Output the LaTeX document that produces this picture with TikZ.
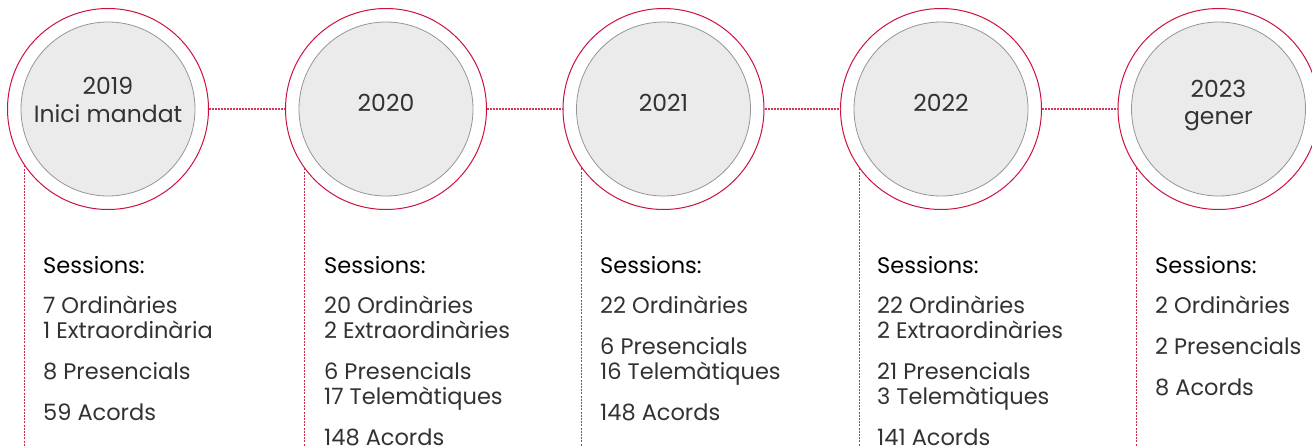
\documentclass[tikz,border=0pt]{standalone}
\usepackage{fontspec}
\setmainfont{Poppins}
\usetikzlibrary{calc}
\definecolor{tlred}{RGB}{206,18,62}
\definecolor{tlgray}{RGB}{235,235,235}
\definecolor{tlstroke}{RGB}{150,150,150}
\definecolor{tltext}{RGB}{50,50,50}
\begin{document}
\begin{tikzpicture}[x=1pt,y=-1pt,
  outer/.style={circle,draw=tlred,line width=1pt,minimum size=201pt,inner sep=0pt},
  inner/.style={circle,draw=tlstroke,fill=tlgray,line width=0.8pt,minimum size=174pt,inner sep=0pt},
  year/.style={anchor=base,font=\fontsize{23.5}{28}\selectfont,text=tltext,inner sep=0pt},
  link/.style={draw=tlred!85,line width=1.2pt,dash pattern=on 2pt off 1pt},
  vlink/.style={draw=tlred!90,line width=1.3pt,dash pattern=on 2pt off 1.2pt},
  head/.style={anchor=base west,font=\fontsize{22.5}{27}\selectfont,text=black,inner sep=0pt},
  item/.style={anchor=base west,font=\fontsize{22.5}{27}\selectfont,text=tltext,inner sep=0pt}]
\clip (0,0) rectangle (1312,447);
\useasboundingbox (0,0) rectangle (1312,447);
\fill[white] (0,0) rectangle (1312,447);
% circles
\foreach \i/\x in {1/108,2/386,3/663.5,4/941,5/1218.5}{
  \node[outer] (o\i) at (\x,109) {};
  \node[inner] (i\i) at (o\i) {};
}
\node[year] (y1a) at (108,94.5) {2019};
\node[year] (y1b) at (108,122) {Inici mandat};
\node[year] (y2) at (386,111) {2020};
\node[year] (y3) at (663.5,111) {2021};
\node[year] (y4) at (941,111) {2022};
\node[year] (y5a) at (1218.5,97) {2023};
\node[year] (y5b) at (1218.5,124) {gener};
% horizontal links
\draw[link] (o1.east) -- (o2.west);
\draw[link] (o2.east) -- (o3.west);
\draw[link] (o3.east) -- (o4.west);
\draw[link] (o4.east) -- (o5.west);
% vertical links
\foreach \i/\a in {1/214,2/216.8,3/216.8,4/216.8,5/216.8}{
  \coordinate (b\i) at ($(o\i.\a)+(0,300)$);
  \draw[vlink] (o\i.\a) -- (b\i);
}
% column 1
\node[head] (s1) at (43,273) {Sessions:};
\node[item] (t1a) at (43,313) {7 Ordinàries};
\node[item] (t1b) at (43,338) {1 Extraordinària};
\node[item] (t1c) at (43,379) {8 Presencials};
\node[item] (t1d) at (43,420) {59 Acords};
% column 2
\node[head] (s2) at (324,273) {Sessions:};
\node[item] (t2a) at (324,313) {20 Ordinàries};
\node[item] (t2b) at (324,338) {2 Extraordinàries};
\node[item] (t2c) at (324,379) {6 Presencials};
\node[item] (t2d) at (324,404) {17 Telemàtiques};
\node[item] (t2e) at (324,445) {148 Acords};
% column 3
\node[head] (s3) at (600,273) {Sessions:};
\node[item] (t3a) at (600,313) {22 Ordinàries};
\node[item] (t3b) at (600,354) {6 Presencials};
\node[item] (t3c) at (600,379) {16 Telemàtiques};
\node[item] (t3d) at (600,420) {148 Acords};
% column 4
\node[head] (s4) at (877,273) {Sessions:};
\node[item] (t4a) at (877,313) {22 Ordinàries};
\node[item] (t4b) at (877,338) {2 Extraordinàries};
\node[item] (t4c) at (877,379) {21 Presencials};
\node[item] (t4d) at (877,404) {3 Telemàtiques};
\node[item] (t4e) at (877,445) {141 Acords};
% column 5
\node[head] (s5) at (1155,273) {Sessions:};
\node[item] (t5a) at (1155,313) {2 Ordinàries};
\node[item] (t5b) at (1155,354) {2 Presencials};
\node[item] (t5c) at (1155,395) {8 Acords};
\end{tikzpicture}
\end{document}
